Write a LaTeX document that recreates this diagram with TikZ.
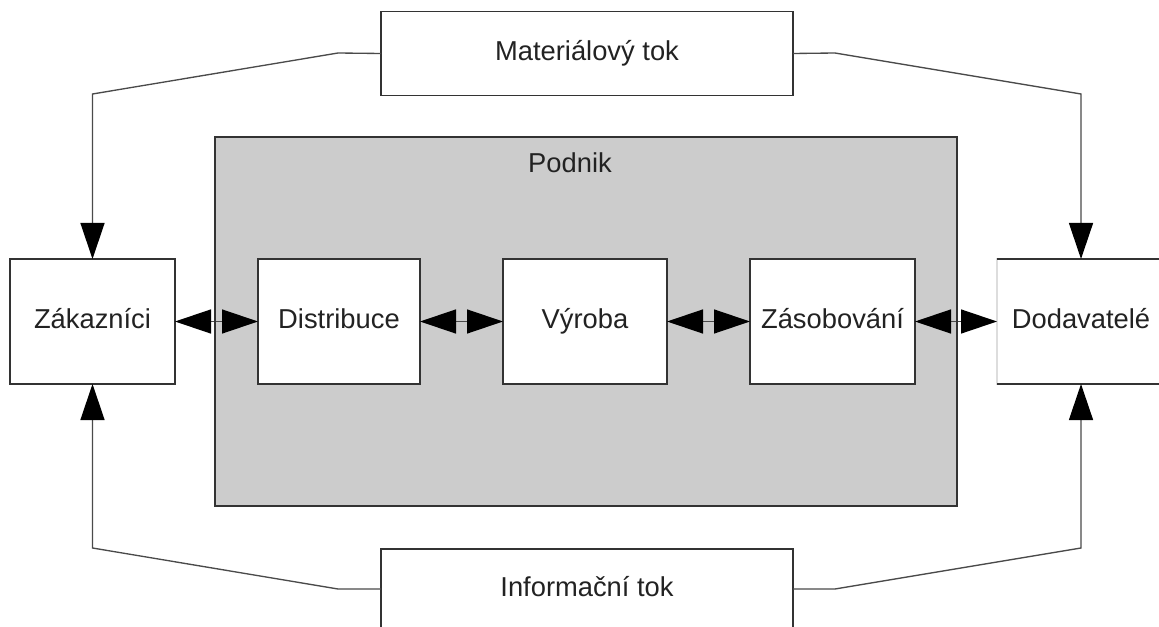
\documentclass[tikz,border=0pt]{standalone}
\usepackage{fontspec}
\setmainfont{Liberation Sans}
\usetikzlibrary{arrows.meta}
\definecolor{boxline}{HTML}{333333}
\definecolor{conline}{HTML}{4A4A4A}
\definecolor{podnikfill}{HTML}{CCCCCC}
\definecolor{txt}{HTML}{222222}
\definecolor{lightedge}{HTML}{DDDDDD}
\tikzset{
  box/.style={draw=boxline, line width=1.1pt, fill=white, rectangle, inner sep=0pt, outer sep=0pt,
    minimum height=93.75pt, text=txt, font=\fontsize{20.5}{24}\selectfont,
    text height=14.5pt, text depth=4pt},
  flowbox/.style={box, minimum width=309pt},
  conn/.style={draw=conline, line width=1pt},
  tip/.style={-{Triangle[length=27pt,width=18pt,color=black]}},
  dtip/.style={{Triangle[length=27pt,width=18pt,color=black]}-{Triangle[length=27pt,width=18pt,color=black]}},
}
\begin{document}
\begin{tikzpicture}[x=0.75pt,y=-0.75pt]
\useasboundingbox (0,0) rectangle (1159,627);
\clip (0,0) rectangle (1159,627);
\fill[white] (0,0) rectangle (1159,627);
% enterprise
\node[draw=boxline, line width=1.1pt, fill=podnikfill, inner sep=0pt, outer sep=0pt,
  minimum width=556.5pt, minimum height=276.75pt] (podnik) at (586,321.5) {};
\node[text=txt, font=\fontsize{20.5}{24}\selectfont] (podniklbl) at (570,163) {Podnik};
% main boxes
\node[box, minimum width=123.75pt] (zak) at (92.5,321.5) {Zákazníci};
\node[box, minimum width=121.5pt] (dis) at (339,321.5) {Distribuce};
\node[box, minimum width=123pt] (vyr) at (585,321.5) {Výroba};
\node[box, minimum width=123.75pt] (zas) at (832.5,321.5) {Zásobování};
\node[box, draw=lightedge, minimum width=126pt] (dod) at (1081,321.5) {Dodavatelé};
\draw[boxline, line width=1.1pt] (dod.north west) -- (dod.north east);
\draw[boxline, line width=1.1pt] (dod.south west) -- (dod.south east);
% flow boxes
\node[flowbox, minimum height=63pt] (mat) at (587,53.5) {Materiálový tok};
\node[flowbox, minimum height=60pt] (inf) at (587,589) {Informační tok};
% horizontal double arrows
\draw[conn, dtip] (zak.east) -- (dis.west);
\draw[conn, dtip] (dis.east) -- (vyr.west);
\draw[conn, dtip] (vyr.east) -- (zas.west);
\draw[conn, dtip] (zas.east) -- (dod.west);
\draw[boxline, line width=1.1pt] (215,312) -- (215,330);
\draw[boxline, line width=1.1pt] (957,312) -- (957,330);
% material flow
\coordinate (m1) at (338,53);
\coordinate (m2) at (92.5,94);
\coordinate (m3) at (835,53);
\coordinate (m4) at (1081,94);
\draw[conn, tip] (mat.west) -- (m1) -- (m2) -- (zak.north);
\draw[conn, tip] (mat.east) -- (m3) -- (m4) -- (dod.north);
% information flow
\coordinate (i1) at (338,589);
\coordinate (i2) at (92.5,548);
\coordinate (i3) at (835,589);
\coordinate (i4) at (1081,548);
\draw[conn, tip] (inf.west) -- (i1) -- (i2) -- (zak.south);
\draw[conn, tip] (inf.east) -- (i3) -- (i4) -- (dod.south);
\end{tikzpicture}
\end{document}
